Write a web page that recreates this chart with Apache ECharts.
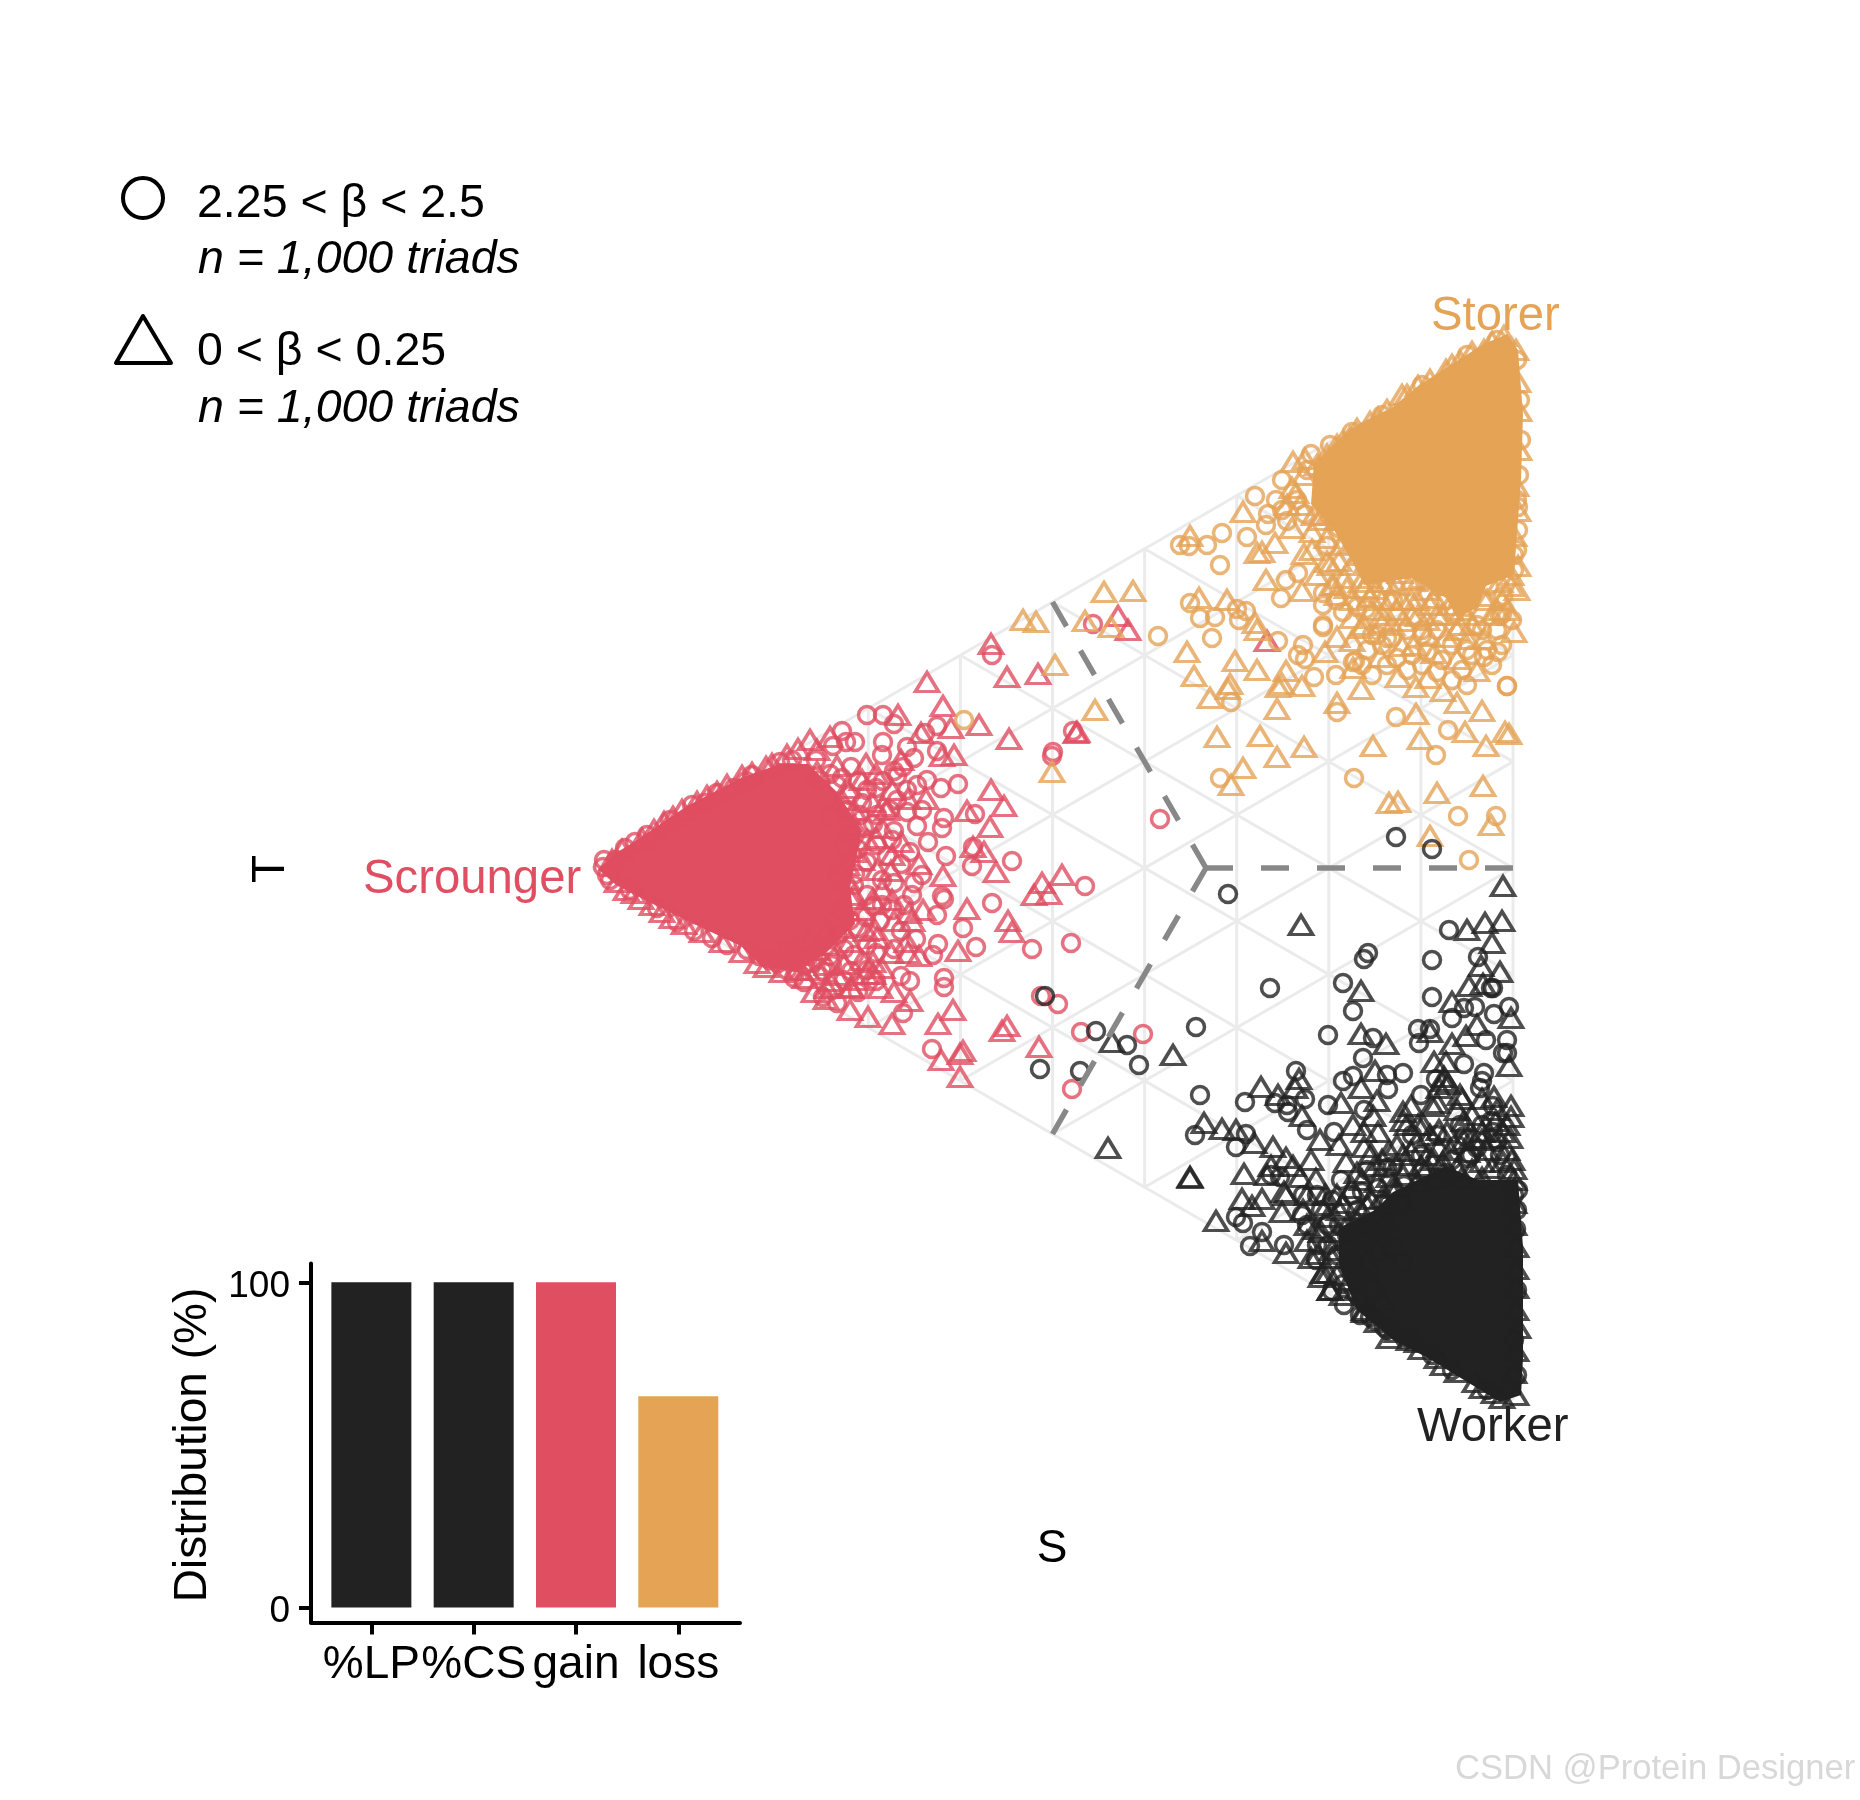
<!DOCTYPE html>
<html><head><meta charset="utf-8">
<style>html,body{margin:0;padding:0;background:#fff}#c{width:1860px;height:1800px}</style>
<script src="https://cdn.jsdelivr.net/npm/echarts@6/dist/echarts.min.js"></script>
</head><body><div id="c"></div>
<script>
// Values. S = position along the horizontal, T = position along the vertical,
// in the ternary plot's own units (triangle: S 0..921, T 0..1064).
const redTriangles = [[399,756],[415,723],[446,726],[335,718],[351,694],[387,675],[417,661],[484,667],[306,685],[359,672],[362,645],[350,644],[329,667],[399,610],[412,594],[375,589],[398,573],[381,553],[392,548],[404,528],[351,524],[470,525],[450,517],[442,505],[457,506],[375,491],[416,479],[420,468],[366,449],[281,438],[317,487],[331,490],[320,479],[283,470],[281,426],[318,399],[258,390],[276,383],[300,376],[361,390],[346,376],[349,340],[371,349],[368,346],[368,323],[415,374],[410,369],[447,353],[526,784],[536,770],[675,759],[485,668],
[81,583],[125,608],[174,633],[206,651],[218,660],[238,663],[34,510],[49,501],[70,488],[92,476],[174,433],[213,422],[222,408],[259,412],[234,401],
[274,636],[284,626],[309,640],[291,594],[316,601],[334,601],[295,590],[284,562],[309,558],[327,536],[299,529],[281,501],[259,501],[274,469],[302,479],[315,458],[299,447],[327,444],[316,447],[259,413],[288,412],[302,408],[274,426],[238,419],[252,436],[202,454],[217,461],
[20,540],[30,550],[50,561],[62,570],[72,578],[90,590],[105,598],[115,604],[135,615],[150,624],[160,627],[180,636],[195,645],[225,650],[25,518],[42,507],[60,495],[80,482],[110,468],[130,458],[150,448],[165,437],[190,428],[205,430],[235,412],
[225,628],[245,634],[270,620],[255,612],[250,600],[262,590],[280,598],[300,610],[262,575],[275,560],[290,572],[262,548],[255,535],[270,540],[285,530],[300,545],[255,520],[262,505],[290,510],[270,490],[250,495],[300,500],[235,470],[250,472],[285,462],[258,458],[240,455],[225,450],[200,445],[215,430],[235,435],[245,425],[270,440],[290,432],[265,420]];
const redCircles = [[400,745],[501,776],[481,669],[461,648],[460,644],[568,581],[275,685],[291,685],[250,669],[263,658],[291,658],[315,653],[302,676],[345,674],[333,667],[345,649],[311,633],[305,624],[325,615],[349,612],[366,616],[383,586],[352,582],[350,572],[325,574],[336,558],[315,588],[354,544],[381,553],[380,534],[420,539],[493,514],[400,497],[350,504],[352,501],[302,517],[322,517],[345,485],[371,472],[384,453],[440,451],[479,457],[346,456],[341,445],[352,422],[352,413],[318,419],[309,424],[311,387],[340,351],[449,404],[466,396],[489,368],[480,311],[551,366],
[43,558],[11,533],[24,540],[113,597],[142,612],[154,619],[188,638],[241,654],[254,658],[120,462],[102,469],[202,422],[220,437],[231,429],[231,403],[245,397],[167,444],[186,437],
[284,612],[270,597],[281,576],[302,569],[295,544],[309,536],[266,551],[263,526],[281,494],[266,472],[288,479],[309,469],[324,461],[302,451],[284,447],[252,451],[234,454],[217,444],[238,444],[259,429],[284,419],[266,408],[238,626],[259,633],[245,615],[266,619],[291,619],[302,629],[224,640],[290,645],[322,642],[256,590],[238,583],[252,554],[245,526],[249,490],[274,483],
[15,525],[12,540],[33,552],[55,565],[78,580],[100,595],[125,607],[160,625],[200,640],[18,520],[38,510],[65,492],[85,478],[135,455],[155,450],[178,440],[195,430],[213,435],[240,410],
[228,620],[250,622],[258,605],[275,610],[268,585],[285,585],[298,590],[258,565],[275,538],[290,520],[262,515],[275,505],[258,480],[290,495],[300,490],[245,465],[262,445],[275,455],[240,435],[205,440],[195,450],[252,420],[275,430],[225,425],[212,418],[272,572],[285,555],[300,560],[318,548],[320,505],[330,525],[312,495],[315,610],[305,600],[335,620],[330,590]];
const orangeTriangles = [[431,780],[444,778],[493,779],[512,808],[541,809],[519,773],[463,735],[503,690],[460,628],[595,748],[602,724],[618,702],[625,663],[651,632],[639,615],[668,664],[685,643],[712,653],[685,691],[643,739],[665,730],[638,716],[636,711],[690,716],[686,713],[710,714],[694,729],[745,697],[769,711],[781,654],[806,598],[797,597],[845,607],[891,614],[838,564],[899,575],[828,661],[873,668],[894,654],[917,666],[913,668],[824,686],[890,689],[607,802],[635,800],[598,864],[651,888],[670,848],[665,847],[683,857],[674,820],[710,809],[665,770],[663,777],[733,748],[745,763],[760,759],[761,732],[788,743],[806,723],[824,713],[836,722],[851,709],[865,697],[885,729],[922,768],[769,772],[790,777],[810,754],[822,755],[836,764],[865,741],[892,761],[819,800],[799,800],[842,747],[876,761],[854,763],[811,779],[826,784],[908,818],
[924,1050],[926,1018],[927,989],[927,950],[924,914],[926,889],[922,864],[926,834],[919,814],[892,1050],[868,1039],[854,1030],[826,1014],[810,1005],[786,982],[765,971],[751,959],[713,941],[704,907],[747,889],[760,857],[720,868],[747,839],[769,818],[783,811],[808,827],[829,822],[919,825],[890,804],
[700,872],[728,880],[735,838],[712,846],[752,822],[780,790],[800,775],[845,785],[868,775],[905,790],[870,805],[838,795],[742,815],[795,818],
[730,885],[745,880],[765,860],[758,870],[735,862],[750,855],[768,845],[775,838],[720,850],[738,835],[760,835],[778,822],[725,825],[740,815],[755,812],[772,812],[790,818],[805,815],[820,820],[835,810],[850,815],[870,790],
[745,805],[760,800],[778,803],[790,800],[810,800],[825,800],[842,802],[858,795],[875,785],[895,800],[910,800],[925,810],[760,782],[772,775],[790,785],[805,790],[820,785],[835,780],[850,785],[865,770],[880,775],[900,785],[915,790],
[735,945],[758,963],[778,978],[795,990],[815,1005],[838,1020],[860,1035],[880,1048],[900,1058],[912,1064],[745,955],[725,935],[701,938],[712,925],[700,912],[708,895],[695,895],[722,885],[738,888]];
const orangeCircles = [[372,680],[566,764],[588,855],[597,854],[615,855],[630,867],[655,863],[628,835],[663,904],[690,920],[684,900],[676,886],[674,875],[695,879],[713,886],[738,955],[719,946],[598,797],[608,782],[623,783],[645,791],[654,789],[647,780],[620,762],[686,759],[689,802],[694,820],[706,827],[735,854],[731,807],[731,795],[731,775],[731,773],[751,788],[774,791],[765,793],[744,800],[711,755],[706,745],[713,741],[722,723],[744,725],[761,738],[763,739],[639,698],[745,688],[804,683],[856,670],[844,645],[915,714],[915,714],[906,748],[910,786],[908,784],[892,743],[762,622],[628,622],[866,584],[904,584],[877,540],
[747,872],[783,850],[801,800],[833,818],[851,832],[897,814],[922,845],[926,893],[911,804],[876,793],[854,800],[830,770],[800,762],[785,765],[862,785],[885,775],
[780,765],[795,762],[815,770],[830,765],[845,770],[860,755],[875,750],[890,770],[905,770],[920,780],[775,750],[790,755],[805,742],[820,745],[835,748],[850,740],[870,730],[880,745],[895,750],[910,755],[780,725],[795,735],[815,730],[830,735],[845,728],[860,720],[875,715],[900,735],[770,735],
[760,968],[790,985],[830,1015],[875,1045],[905,1060],[925,1040],[928,1000],[929,960],[927,925],[925,900],[926,870],[925,850],[922,830],[715,930],[705,900],[690,890]];
const blackTriangles = [[911,514],[709,475],[910,479],[893,477],[875,470],[900,457],[908,428],[889,434],[769,409],[877,414],[891,416],[860,398],[919,382],[885,375],[874,364],[860,356],[769,366],[794,356],[838,368],[842,338],[854,338],[917,334],[783,329],[769,312],[785,299],[581,345],[520,358],[516,252],[598,223],[598,222],[669,313],[686,305],[703,312],[707,321],[749,297],[811,288],[612,277],[630,271],[644,270],[662,257],[681,253],[652,226],[719,240],[724,221],[710,284],[728,260],[754,238],[781,284],[761,275],[747,255],[815,275],[831,275],[847,270],[797,249],[819,249],[779,246],[772,253],[836,245],[890,260],[919,294],[902,303],[919,283],[911,268],[922,231],[870,301],[845,297],[624,179],[650,201],[670,201],[660,194],[690,188],[670,159],[694,147],[692,208],[711,190],[729,123],[738,110],[772,90],[817,60],[715,159],[736,183],[724,171],[747,168],[765,153],[769,190],[786,183],[801,214],[811,225],[829,234],
[924,5],[922,27],[924,49],[926,72],[924,90],[924,112],[924,131],[924,153],[922,175],[922,197],[922,220],[902,7],[883,18],[851,35],[829,51],[797,62],[772,88],[738,110],[731,127],[726,146],[740,142],
[679,234],[694,242],[701,234],[708,223],[675,225],[733,205],[715,205],[694,205],[751,197],[779,201],[797,223],[765,227],[783,234],[811,245],[847,253],[872,260],[851,238],[890,238],[911,238],[811,279],[826,275],[819,294],[772,268],[786,268],[868,305],[851,319],[856,316],[852,323],[847,312],[840,294],[890,301],[904,279],[872,279],[890,268],[715,175],[729,168],[747,190],[765,179],[786,164],[776,135],[758,120],[736,127],[719,142],
[865,290],[880,285],[905,290],[915,275],[838,265],[855,268],[880,262],[900,262],[918,262],[805,255],[825,258],[842,240],[858,250],[875,248],[895,250],[915,250],[790,240],[815,235],[835,232],[865,232],[880,230],[900,232],[920,240],[770,220],[785,218],[805,212],[825,218],[845,222],[870,222],[890,222],[745,205],[760,212],[775,195],[790,202],[810,200],[735,195],[755,175],[770,168],[780,175],[795,180],[740,150],[755,160],[772,150],[785,150],[760,142],[745,125],[765,110],[778,120],[790,100],[750,105],[785,78],[805,68],[825,58],[845,42],[865,28],[890,12],[910,2]];
const blackCircles = [[636,506],[453,404],[504,369],[535,355],[547,335],[448,331],[488,329],[604,373],[678,412],[736,365],[751,417],[761,389],[776,447],[772,441],[840,440],[840,403],[857,470],[886,443],[901,412],[899,412],[804,563],[840,551],[826,371],[827,357],[838,371],[781,362],[771,342],[811,327],[795,325],[796,311],[761,324],[751,319],[704,329],[713,301],[736,295],[683,297],[653,298],[695,295],[696,288],[608,305],[603,265],[644,253],[654,266],[715,270],[742,268],[749,220],[770,208],[792,196],[792,173],[829,305],[772,290],[872,336],[892,327],[890,319],[888,312],[917,393],[902,386],[860,382],[883,393],[872,392],[915,360],[894,360],[915,347],[911,347],[844,321],[901,294],[899,279],[901,268],[868,275],[908,245],[876,242],[644,183],[651,177],[670,168],[658,154],[692,155],[724,140],[740,109],[792,73],[778,83],[736,155],[711,205],[679,225],[688,223],
[922,60],[924,171],[922,205],[783,79],[769,101],[751,116],
[801,234],[829,245],[854,227],[879,245],[890,275],[872,264],[786,212],[765,190],[808,194],[797,197],[747,175],[729,190],[715,175],[801,153],[811,138],[765,127],
[812,215],[830,228],[860,240],[885,252],[905,258],[845,265],[865,255],[820,265],[795,232],[775,230],[760,205],[740,200],[725,205],[710,185],[735,175],[755,165],[775,160],[725,155],[745,145],[760,130],[780,110],[752,95],[768,85],[795,70],[815,62],[840,45],[860,30],[895,10],[925,25],[925,110],[925,190],[926,210],[915,225]];
// Saturated regions where overplotted outlines merge into solid colour
const redCore = [[6,531],[24,547],[42,558],[95,594],[149,622],[188,636],[216,636],[245,608],[270,569],[258,512],[263,476],[235,448],[205,428],[170,433],[149,454],[102,476],[59,497],[24,515]];
const orangeCore = [[915,1066],[890,1055],[854,1032],[826,1014],[801,993],[765,975],[747,961],[722,936],[719,896],[742,870],[762,835],[772,815],[819,822],[854,802],[865,782],[886,793],[894,814],[922,825],[929,921],[931,986],[926,1050]];
const blackCore = [[801,208],[854,234],[886,220],[926,220],[931,153],[931,42],[929,5],[908,-2],[872,20],[836,42],[801,60],[765,90],[747,135],[747,172],[783,190]];
const dividerEdges = [[921,532],[460.5,798],[460.5,266]];
const dividerCentre = [614,532];
const triangleCorners = {left:[0,532], top:[921,1064], bottom:[921,0]};
const barCategories = ['%LP','%CS','gain','loss'];
const barValues = [100,100,100,65];
const barTickValues = [0,100];

const RED='#E04E62', ORANGE='#E5A356', BLACK='#222222', FONT='"Liberation Sans", Arial, sans-serif';
const barColors=[BLACK,BLACK,RED,ORANGE];

function mix(a,b,f){return [a[0]+(b[0]-a[0])*f,a[1]+(b[1]-a[1])*f];}
const {left:A,top:B,bottom:C}=triangleCorners;
const gridSeries=[];
function seg(p,q){gridSeries.push({type:'line',xAxisIndex:0,yAxisIndex:0,data:[p,q],symbol:'none',silent:true,z:1,animation:false,lineStyle:{color:'#EBEBEB',width:3}});}
for(let i=0;i<=10;i++){const f=i/10;
  if(i>0){seg(mix(A,B,f),mix(A,C,f));}
  if(i<10){seg(mix(A,C,f),mix(B,C,f)); seg(mix(A,B,f),mix(C,B,f));}
}
function core(pts,color){return {type:'custom',xAxisIndex:0,yAxisIndex:0,data:[0],silent:true,z:2,clip:false,animation:false,
  renderItem:(p,api)=>({type:'polygon',shape:{points:pts.map(q=>api.coord(q))},style:{fill:color}})};}
function pts(data,symbol,size,color){return {type:'scatter',xAxisIndex:0,yAxisIndex:0,data,symbol,symbolSize:size,silent:true,z:3,clip:false,animation:false,progressive:0,
  itemStyle:{color:'rgba(0,0,0,0)',borderColor:color,borderWidth:3.5,opacity:0.8}};}
const TRI=[23,19], CIR=17;
const dividers=dividerEdges.map(e=>({type:'line',xAxisIndex:0,yAxisIndex:0,data:[e,dividerCentre],symbol:'none',silent:true,z:4,animation:false,lineStyle:{color:'#888888',width:5.5,type:[28,28],cap:'butt'}}));

function txt(text,x,y,size,fill,extra){return Object.assign({type:'text',z:10,style:{text,x,y,font:(extra&&extra.italic?'italic ':'')+size+'px '+FONT,fill,textAlign:(extra&&extra.align)||'left',textVerticalAlign:'middle'}},extra&&extra.rotation?{rotation:extra.rotation,originX:x,originY:y}:{});}

const chart=echarts.init(document.getElementById('c'),null,{renderer:'canvas'});
chart.setOption({
  animation:false,backgroundColor:'#fff',
  grid:[{left:552,top:300,width:1000,height:1140},{left:311,top:1263.5,width:429,height:359}],
  xAxis:[{type:'value',gridIndex:0,min:-40,max:960,show:false},
    {type:'value',gridIndex:1,min:-0.59,max:3.603,splitLine:{show:false},
     axisLine:{show:true,onZero:false,lineStyle:{color:'#000',width:4}},
     axisTick:{show:true,customValues:[0,1,2,3],length:12,lineStyle:{color:'#000',width:4}},
     axisLabel:{customValues:[0,1,2,3],formatter:v=>barCategories[v],color:'#000',fontSize:46,fontFamily:FONT,margin:20,hideOverlap:false}}],
  yAxis:[{type:'value',gridIndex:0,min:-40,max:1100,show:false},
    {type:'value',gridIndex:1,min:-4.6,max:105.8,splitLine:{show:false},
     name:'Distribution (%)',nameLocation:'middle',nameRotate:90,nameGap:95,nameTextStyle:{color:'#000',fontSize:46,fontFamily:FONT,padding:[0,4,0,0]},
     axisLine:{show:true,onZero:false,lineStyle:{color:'#000',width:4}},
     axisTick:{show:true,customValues:barTickValues,length:12,lineStyle:{color:'#000',width:4}},
     axisLabel:{customValues:barTickValues,color:'#000',fontSize:37,fontFamily:FONT,margin:21,verticalAlign:'top',lineHeight:8}}],
  series:[...gridSeries,
    core(redCore,RED),core(orangeCore,ORANGE),core(blackCore,BLACK),
    pts(redTriangles,'triangle',TRI,RED),pts(redCircles,'circle',CIR,RED),
    pts(orangeTriangles,'triangle',TRI,ORANGE),pts(orangeCircles,'circle',CIR,ORANGE),
    pts(blackTriangles,'triangle',TRI,BLACK),pts(blackCircles,'circle',CIR,BLACK),
    ...dividers,
    {type:'bar',xAxisIndex:1,yAxisIndex:1,barWidth:80,silent:true,animation:false,
     data:barValues.map((v,i)=>({value:[i,v],itemStyle:{color:barColors[i]}}))}
  ],
  graphic:[
    {type:'circle',shape:{cx:143,cy:198,r:20},style:{fill:'none',stroke:'#000',lineWidth:4},z:10},
    {type:'polygon',shape:{points:[[143,316],[116,363],[171,363]]},style:{fill:'none',stroke:'#000',lineWidth:4,lineJoin:'round'},z:10},
    txt('2.25 < β < 2.5',197,204,46.5,'#000'),
    txt('n = 1,000 triads',198,260,46.5,'#000',{italic:true}),
    txt('0 < β < 0.25',197,352,46.5,'#000'),
    txt('n = 1,000 triads',198,409,46.5,'#000',{italic:true}),
    txt('Storer',1431,317,47.3,ORANGE),
    txt('Scrounger',363,880,47.3,RED),
    txt('Worker',1417,1428,47.3,BLACK),
    txt('T',271,869,46,'#000',{align:'center',rotation:Math.PI/2}),
    txt('S',1052,1549,46,'#000',{align:'center'}),
    txt('CSDN @Protein Designer',1455,1769,34.6,'#D8D8D8')
  ]
});
</script></body></html>
